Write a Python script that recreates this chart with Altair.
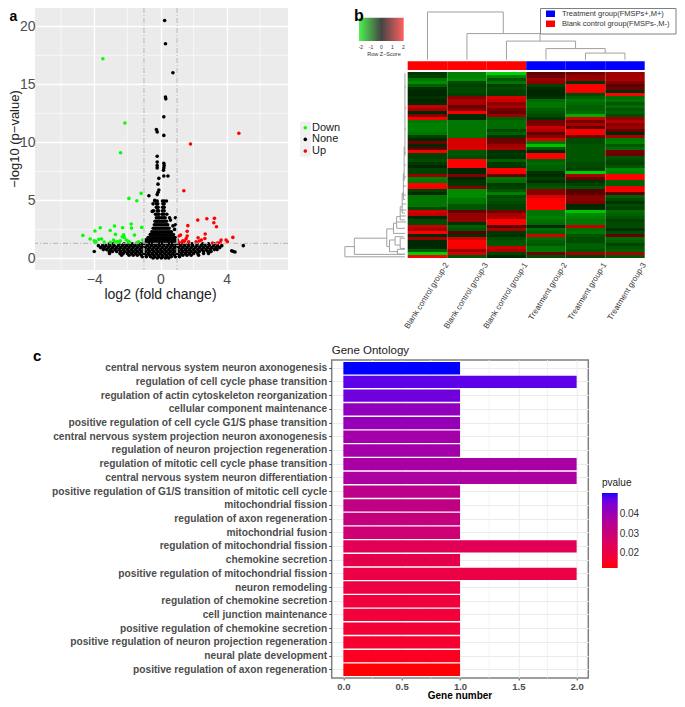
import altair as alt
import pandas as pd

FONT = "Liberation Sans"

# ---------- panel a: volcano ----------
DOWN_X = [-3.48,-2.15,-2.41,-1.17,-1.91,-1.43,-1.77,-2.78,-3.64,-2.29,-1.75,-1.13,-3.04,-3.96,-4.69,-2.72,-1.57,-2.23,-2.31,-2.19,-4.25,-3.72,-3.56,-4.0,-2.84,-2.07,-2.43,-3.4,-3.94,-3.04,-2.74,-2.6,-1.93,-1.33,-1.07,-1.43,-1.87,-2.54,-3.9]
DOWN_Y = [17.2,11.67,9.1,5.6,5.17,4.97,2.96,2.79,2.64,2.64,2.61,2.67,2.41,2.36,1.98,2.07,2.01,2.04,1.87,1.81,1.67,1.64,1.67,1.52,1.58,1.58,1.52,1.41,1.35,1.38,1.44,1.44,1.47,1.44,1.58,1.35,1.38,1.38,1.45]
UP_X = [4.73,1.81,1.41,2.8,3.26,2.25,3.22,3.38,1.65,1.61,2.7,4.37,2.27,2.68,1.21,1.11,1.61,1.55,3.66,3.96,4.04,2.47,2.35,2.15,1.35,1.45,1.7,1.09,1.29,3.14,3.44,3.6]
UP_Y = [10.78,9.86,5.83,3.42,3.45,3.3,3.07,2.73,2.82,2.33,2.1,1.81,1.78,1.72,2.01,1.93,1.93,1.7,1.58,1.58,1.44,1.58,1.5,1.44,1.52,1.49,1.44,1.41,1.38,1.32,1.32,1.38]
NONE_TOP_X = [0.25,0.3,0.75,0.3,0.32,0.2,-0.25,-0.2,0.2,-0.2,-0.2,-0.2,-0.2,0.2,0.22,0.2,0.18,0.2,0.45,-0.1,-0.15,-0.1,-0.15,-0.2,-0.7,-0.35,-0.45,-0.5,0.9,0.9,0.85,0.6,0.55,-4.0,4.3,4.4,4.5,5.0,0.75]
NONE_TOP_Y = [20.5,18.5,16.0,13.9,13.75,12.2,11.1,10.9,10.6,8.8,8.3,8.0,7.8,8.2,8.0,7.8,7.6,7.1,7.1,6.9,6.4,5.9,5.7,5.5,5.4,5.0,4.7,4.05,3.5,2.9,2.5,3.3,3.5,0.6,0.65,0.6,0.55,1.1,2.8]
NONE_ROWS = [
 (4.95,[-0.33,-0.2,0.12,0.22,0.36]),
 (4.7,[-0.25,-0.17,0.15,0.22]),
 (4.4,[-0.25,-0.15,0.13,0.22]),
 (4.1,[-0.42,-0.2,-0.12,0.12,0.22]),
 (3.8,[-0.3,-0.2,-0.1,0.1,0.2,0.38]),
 (3.5,[-0.25,-0.15,-0.05,0.08,0.18,0.28]),
 (3.2,[-0.33,-0.23,-0.13,-0.04,0.06,0.16,0.26,0.36]),
 (2.9,[-0.37,-0.27,-0.17,-0.07,0.03,0.13,0.23,0.33,0.43]),
 (2.6,[-0.44,-0.33,-0.22,-0.11,0.0,0.11,0.22,0.33,0.44,0.52]),
 (2.3,[-0.52,-0.4,-0.28,-0.16,-0.04,0.08,0.2,0.32,0.44,0.56,0.66]),
 (2.05,[-0.62,-0.48,-0.34,-0.2,-0.06,0.08,0.22,0.36,0.5,0.64,0.78]),
 (1.8,[-0.75,-0.6,-0.45,-0.3,-0.15,0.0,0.15,0.3,0.45,0.6,0.75,0.88]),
 (1.6,[-0.88,-0.72,-0.56,-0.4,-0.24,-0.08,0.08,0.24,0.4,0.56,0.72,0.88,1.0]),
 (1.42,[-0.98,-0.8,-0.62,-0.44,-0.26,-0.08,0.1,0.28,0.46,0.64,0.82,1.0]),
 (1.25,[-3.1,-2.85,-2.5,-2.2,-1.95,-1.7,-1.45,-1.2,-1.0,-0.8,-0.6,-0.4,-0.2,0.0,0.2,0.4,0.6,0.8,1.0,1.2,1.4,1.65,1.9,2.2,2.55,2.9,3.25]),
 (1.1,[-3.75,-3.5,-3.3,-3.05,-2.8,-2.55,-2.3,-2.05,-1.8,-1.55,-1.3,-1.05,-0.8,-0.55,-0.3,-0.05,0.2,0.45,0.7,0.95,1.2,1.45,1.7,1.95,2.2,2.45,2.7,2.95,3.2,3.45,3.7]),
 (0.93,[-3.62,-3.4,-3.15,-2.9,-2.65,-2.4,-2.15,-1.9,-1.65,-1.4,-1.15,-0.9,-0.65,-0.4,-0.15,0.1,0.35,0.6,0.85,1.1,1.35,1.6,1.85,2.1,2.35,2.6,2.85,3.1,3.35,3.58]),
 (0.76,[-3.45,-3.25,-3.0,-2.75,-2.5,-2.25,-2.0,-1.75,-1.5,-1.25,-1.0,-0.75,-0.5,-0.25,0.0,0.25,0.5,0.75,1.0,1.25,1.5,1.75,2.0,2.25,2.5,2.75,3.0,3.25,3.42]),
 (0.6,[-3.1,-2.9,-2.65,-2.4,-2.15,-1.9,-1.65,-1.4,-1.15,-0.9,-0.65,-0.4,-0.15,0.1,0.35,0.6,0.85,1.1,1.35,1.6,1.85,2.1,2.35,2.6,2.85,3.05]),
 (0.43,[-3.08,-2.45,-2.25,-2.0,-1.75,-1.5,-1.25,-1.0,-0.75,-0.5,-0.25,0.0,0.25,0.5,0.75,1.0,1.25,1.5,1.75,2.0,2.25,2.6,2.9]),
 (0.27,[-2.35,-1.9,-1.65,-1.4,-1.15,-0.9,-0.65,-0.4,-0.15,0.1,0.35,0.6,0.85,1.1,1.35,1.6,1.85,2.3]),
 (0.14,[-1.1,-0.85,-0.6,-0.35,-0.1,0.15,0.4,0.65,0.9,1.15]),
 (0.03,[-0.45,-0.2,0.05,0.3,0.5]),
]
TICKS_A_X = [-4, 0, 4]
TICKS_A_Y = [0, 5, 10, 15, 20]
MINOR_A_X = [-6, -2, 2, 6]
MINOR_A_Y = [2.5, 7.5, 12.5, 17.5]
GUIDE_X = [-1, 1]
GUIDE_Y = [1.3]

# ---------- panel b: heatmap (z-scores per row, columns as plotted) ----------
SAMPLES = ["Blank control group-2","Blank control group-3","Blank control group-1","Treatment group-2","Treatment group-1","Treatment group-3"]
Z1 = [-0.4,-0.5,-1.0,-1.2,-0.8,-0.3,-0.1,-0.1,-0.3,-0.1,-0.2,1.4,1.0,-0.1,0.6,1.9,-1.0,-1.1,-1.1,-1.1,-1.0,-0.5,-0.2,0.3,-0.1,0.1,1.9,-0.5,-0.5,-0.6,-0.4,-0.1,-0.5,-0.5,0.8,-1.1,-1.0,2.0,1.9,-0.5,-0.2,-1.0,-1.0,-1.0,-1.0,-0.6,1.5,1.3,-0.1,-0.6,-0.6,1.4,1.0,2.0,-0.2,0.9,-0.1,-0.1,-0.1,-0.8,-1.8,1.9]
Z2 = [-1.1,-1.1,-1.2,-0.6,-0.5,-0.6,-0.6,-0.5,0.6,1.1,1.0,0.3,0.6,1.9,-0.2,-0.2,-1.0,-1.0,-1.0,-1.0,-1.0,-1.0,1.5,1.6,1.5,1.6,-0.7,-0.7,-0.6,2.0,2.0,2.0,-0.1,-0.1,0.6,-0.1,-0.3,-0.4,0.6,-1.2,-1.2,-1.2,-1.0,-1.0,-0.7,-0.7,0.2,0.8,0.8,0.8,-0.3,-0.8,-0.7,0.0,-0.3,1.5,2.0,2.0,1.9,0.9,1.5,-0.7]
Z3 = [-1.8,-1.1,-0.7,-1.0,-0.5,-0.6,-0.5,-0.5,1.6,1.4,0.7,1.0,0.4,0.2,0.9,-0.8,-0.9,-0.9,-0.9,-0.6,-0.8,-0.4,0.3,0.4,0.9,1.1,-0.3,-0.4,-0.3,-0.8,-0.4,-0.4,2.0,1.9,0.2,-1.0,-0.9,-0.4,-0.5,-0.7,-1.1,-0.6,-0.7,-0.6,-0.5,-0.5,0.4,1.0,1.1,2.0,2.0,0.1,1.0,-0.4,-0.3,-0.6,-0.7,-0.7,1.4,1.0,-0.5,-0.1]
Z4 = [0.1,0.3,0.9,0.7,-0.5,-0.2,-0.1,-0.1,-0.3,-0.9,-1.0,-1.0,-0.8,-0.7,-0.6,-0.3,0.4,0.5,1.4,1.1,0.2,0.7,1.6,-1.0,-1.7,-0.7,-0.1,2.0,2.0,-0.8,-0.9,-0.8,-0.8,-0.3,-0.2,-0.5,-0.2,-0.6,-0.7,0.7,0.6,1.6,1.9,2.0,2.0,2.0,-1.0,-1.0,-1.1,-1.0,-0.9,-0.1,-0.9,-0.8,1.5,-0.9,-0.8,-0.7,-1.0,-1.0,0.3,-0.6]
Z5 = [0.4,0.8,0.9,-0.3,2.0,2.0,1.9,-0.6,-0.8,-1.0,-0.9,-0.8,-0.8,-0.9,-1.5,1.4,0.4,1.0,0.2,1.9,1.9,0.4,-0.6,-0.6,-0.7,-0.7,-0.7,-0.7,-0.7,-0.7,-0.6,-0.6,-0.5,-1.8,1.0,0.2,-0.3,-0.5,-0.7,0.0,0.1,0.6,0.7,0.5,-0.1,-0.2,-1.7,-1.2,-1.1,-1.0,-1.0,1.3,-0.9,-1.0,-0.7,-0.6,-0.6,-0.8,-0.8,-0.7,0.9,-0.5]
Z6 = [0.9,0.9,1.0,0.6,0.0,0.3,-0.2,2.0,-0.9,-1.0,-0.7,-0.9,-0.7,-0.8,-0.6,0.8,1.2,0.6,0.9,0.2,-0.1,1.0,-1.0,-1.1,-0.7,-0.9,0.4,0.3,-0.7,-0.6,-0.5,-0.7,-1.2,-1.1,2.0,2.0,-0.8,-0.8,1.8,1.9,0.0,-0.8,-0.6,-0.3,-0.6,-0.5,-0.9,-0.8,-0.7,-0.5,-0.6,-0.6,-0.3,-0.6,0.2,-0.9,-0.8,-0.5,-0.7,-0.8,1.0,-0.7]
Z_COLS = [Z1, Z2, Z3, Z4, Z5, Z6]
GROUP_COLOR = ["#ff0000","#ff0000","#ff0000","#0000ff","#0000ff","#0000ff"]
# dendrogram links: x1, y1, x2, y2 in column / row units
TOP_LINKS = [
 (0.5,-4.1,0.5,-20),(0.5,-20,2.42,-20),(2.42,-20,2.42,-12.8),
 (1.5,-4.1,1.5,-12.8),(1.5,-12.8,3.35,-12.8),(3.35,-12.8,3.35,-10.3),
 (2.5,-4.1,2.5,-10.3),(2.5,-10.3,4.25,-10.3),(4.25,-10.3,4.25,-7.8),
 (3.5,-4.1,3.5,-7.8),(3.5,-7.8,5.0,-7.8),(5.0,-7.8,5.0,-6.3),
 (4.5,-4.1,4.5,-6.3),(4.5,-6.3,5.5,-6.3),(5.5,-6.3,5.5,-4.1),
]
LEFT_LINKS = [
 (-1.59,58.2,-1.59,61.6),(-1.59,61.6,-0.07,61.6),(-1.59,58.2,-1.35,58.2),
 (-1.35,55.4,-1.35,60.8),(-1.35,60.8,-0.07,60.8),(-1.35,55.4,-0.53,55.4),
 (-0.53,52.3,-0.53,58.2),(-0.53,52.3,-0.36,52.3),(-0.53,58.2,-0.46,58.2),
 (-0.36,50.4,-0.36,53.8),(-0.36,50.4,-0.28,50.4),(-0.36,53.8,-0.07,53.8),
 (-0.28,48.2,-0.28,52.1),(-0.28,52.1,-0.07,52.1),(-0.28,48.2,-0.19,48.2),
 (-0.19,44.9,-0.19,49.3),(-0.19,49.3,-0.07,49.3),(-0.19,44.9,-0.14,44.9),
 (-0.14,40.4,-0.14,47),(-0.14,47,-0.07,47),(-0.14,40.4,-0.11,40.4),
 (-0.11,33.8,-0.11,42.5),(-0.11,42.5,-0.07,42.5),(-0.11,33.8,-0.09,33.8),
 (-0.09,25,-0.09,36),(-0.09,36,-0.07,36),(-0.09,25,-0.07,25),
 (-0.07,0.4,-0.07,28),
 (-0.46,56,-0.46,59.9),(-0.46,56,-0.32,56),(-0.46,59.9,-0.26,59.9),
 (-0.32,54.9,-0.32,57.7),(-0.32,54.9,-0.11,54.9),(-0.32,57.7,-0.19,57.7),
 (-0.19,55.4,-0.19,58.8),(-0.19,55.4,-0.07,55.4),(-0.19,58.8,-0.07,58.8),
 (-0.26,59.1,-0.26,60.7),(-0.26,59.1,-0.07,59.1),(-0.26,60.7,-0.07,60.7),
 (-0.07,5,-0.04,5),(-0.07,12,-0.04,12),(-0.07,19,-0.04,19),(-0.09,27,-0.04,27),
 (-0.09,31,-0.04,31),(-0.11,35,-0.04,35),(-0.11,38,-0.04,38),(-0.14,41,-0.04,41),
 (-0.14,44,-0.04,44),(-0.19,46,-0.04,46),(-0.19,48,-0.04,48),(-0.28,50,-0.04,50),
]
KEY_TICKS = ["-2","-1","0","1","2"]

# ---------- panel c: GO bars ----------
TERMS = ["central nervous system neuron axonogenesis","regulation of cell cycle phase transition","regulation of actin cytoskeleton reorganization","cellular component maintenance","positive regulation of cell cycle G1/S phase transition","central nervous system projection neuron axonogenesis","regulation of neuron projection regeneration","regulation of mitotic cell cycle phase transition","central nervous system neuron differentiation","positive regulation of G1/S transition of mitotic cell cycle","mitochondrial fission","regulation of axon regeneration","mitochondrial fusion","regulation of mitochondrial fission","chemokine secretion","positive regulation of mitochondrial fission","neuron remodeling","regulation of chemokine secretion","cell junction maintenance","positive regulation of chemokine secretion","positive regulation of neuron projection regeneration","neural plate development","positive regulation of axon regeneration"]
GENES = [1,2,1,1,1,1,1,2,2,1,1,1,1,2,1,2,1,1,1,1,1,1,1]
PVALS = [0.0508,0.048,0.0465,0.042,0.041,0.039,0.039,0.038,0.0375,0.0335,0.032,0.031,0.029,0.0235,0.022,0.0205,0.02,0.019,0.0185,0.018,0.017,0.015,0.0128]
P_STOPS = [0.0126, 0.02215, 0.0317, 0.04125, 0.0508]
P_COLORS = ["#ff0000", "#e4004d", "#c10080", "#9300b8", "#0000ff"]
TICKS_C = [0, 0.5, 1, 1.5, 2]
MINOR_C = [0.25, 0.75, 1.25, 1.75]

ONE = pd.DataFrame({"k": [0]})


def txt(s, x, y, size=10, color="#000000", weight="normal", align="left", angle=0):
    return alt.Chart(ONE).mark_text(
        text=s, font=FONT, fontSize=size, color=color, fontWeight=weight,
        align=align, baseline="middle", angle=angle,
    ).encode(x=alt.value(x), y=alt.value(y))


def box(x, x2, y, y2, **mark):
    return alt.Chart(ONE).mark_rect(**mark).encode(
        x=alt.value(x), x2=alt.value(x2), y=alt.value(y), y2=alt.value(y2))


def dot(x, y, color):
    return alt.Chart(ONE).mark_circle(size=13, color=color, opacity=1).encode(
        x=alt.value(x), y=alt.value(y))


# ===== panel a =====
AW, AH = 253, 262
ax = alt.Scale(domain=[-7.58, 7.7], nice=False, zero=False)
ay = alt.Scale(domain=[-1.0, 21.58], nice=False, zero=False)
axis_a_x = alt.Axis(values=TICKS_A_X, title=None, grid=True, gridColor="#ffffff", gridWidth=1.3,
                    labelFontSize=14, labelColor="#4d4d4d", labelFont=FONT,
                    ticks=False, domain=False, labelPadding=2.5)
axis_a_y = alt.Axis(values=TICKS_A_Y, title=None, grid=True, gridColor="#ffffff", gridWidth=1.3,
                    labelFontSize=14, labelColor="#4d4d4d", labelFont=FONT,
                    ticks=False, domain=False, labelPadding=0)
XA = alt.X("x:Q", scale=ax, axis=axis_a_x)
YA = alt.Y("y:Q", scale=ay, axis=axis_a_y)

none_x = list(NONE_TOP_X)
none_y = list(NONE_TOP_Y)
for yy, xs in NONE_ROWS:
    for xx in xs:
        none_x.append(xx)
        none_y.append(yy)

def pts(xs, ys, color):
    return alt.Chart(pd.DataFrame({"x": xs, "y": ys})).mark_circle(size=13, color=color, opacity=1).encode(x=XA, y=YA)

minor_x_a = alt.Chart(pd.DataFrame({"x": MINOR_A_X})).mark_rule(color="#ffffff", strokeWidth=0.6).encode(x=XA)
minor_y_a = alt.Chart(pd.DataFrame({"y": MINOR_A_Y})).mark_rule(color="#ffffff", strokeWidth=0.6).encode(y=YA)
guide_v = alt.Chart(pd.DataFrame({"x": GUIDE_X})).mark_rule(color="#c9c9c9", strokeWidth=1.5, strokeDash=[5, 2, 1, 2]).encode(x=XA)
guide_h = alt.Chart(pd.DataFrame({"y": GUIDE_Y})).mark_rule(color="#b4b4b4", strokeWidth=1, strokeDash=[5, 2, 1, 2]).encode(y=YA)

OX = 35  # page x of plot a
panel_a = alt.layer(
    minor_x_a, minor_y_a,
    pts(none_x, none_y, "#000000"),
    pts(DOWN_X, DOWN_Y, "#00ff00"),
    pts(UP_X, UP_Y, "#ff0000"),
    guide_v, guide_h,
    txt("\u2212log10 (p\u2212value)", -20, 131, size=13, color="#222222", align="center", angle=270),
    txt("log2 (fold change)", 160.5 - OX, 286.5, size=14, color="#222222", align="center"),
    txt("a", -25.5, 9, size=14, weight="bold"),
    box(300 - OX, 310.7 - OX, 113.7, 148.7, fill="#f0f0f0"),
    dot(305.3 - OX, 119.7, "#00ff00"), dot(305.3 - OX, 131.4, "#000000"), dot(305.3 - OX, 143.1, "#ff0000"),
    txt("Down", 312 - OX, 119.7, size=11, color="#222222"),
    txt("None", 312 - OX, 131.4, size=11, color="#222222"),
    txt("Up", 312 - OX, 143.1, size=11, color="#222222"),
).properties(width=AW, height=AH, view=alt.ViewBackground(fill="#ebebeb", stroke=None))

# ===== panel b =====
# The view starts at page x 331.7 / y 8 so that it lines up with panels a and c.
BX, BY = 331.7, 8
BW, BH = 313, 250
bx = alt.Scale(domain=[-1.924, 6], nice=False, zero=False)
by = alt.Scale(domain=[-21.33, 62], nice=False, zero=False, reverse=True)
XB = alt.X("c0:Q", scale=bx, axis=None)
YB = alt.Y("r0:Q", scale=by, axis=None)
cells = []
for c, col in enumerate(Z_COLS):
    for r, v in enumerate(col):
        cells.append({"c0": c, "c1": c + 1, "r0": r, "r1": r + 1, "z": v})
heat = alt.Chart(pd.DataFrame(cells)).mark_rect().encode(
    x=XB, x2="c1:Q", y=YB, y2="r1:Q",
    color=alt.Color("z:Q", legend=None, scale=alt.Scale(domain=[-2, 0, 2], range=["#00e600", "#000000", "#ff0000"])),
)
annot = alt.Chart(pd.DataFrame([
    {"c0": i, "c1": i + 1, "r0": -3.55, "r1": -0.67, "g": GROUP_COLOR[i]} for i in range(6)
])).mark_rect().encode(
    x=XB, x2="c1:Q", y=YB, y2="r1:Q",
    color=alt.Color("g:N", scale=None, legend=None),
)

def links(rows, color="#a0a0a0"):
    df = pd.DataFrame(rows, columns=["c0", "r0", "c1", "r1"])
    return alt.Chart(df).mark_rule(color=color, strokeWidth=1).encode(x=XB, x2="c1:Q", y=YB, y2="r1:Q")

sep = alt.Chart(pd.DataFrame({"c0": [1, 2, 3, 4, 5], "r0": [0] * 5, "r1": [62] * 5})).mark_rule(
    color="#ffffff", opacity=0.12, strokeWidth=1).encode(x=XB, y=YB, y2="r1:Q")
names = alt.Chart(pd.DataFrame({"s": SAMPLES, "c0": [1, 2, 3, 4, 5, 6], "r0": [63.9] * 6})).mark_text(
    font=FONT, fontSize=8, color="#333333", align="right", baseline="middle", angle=302,
).encode(x=XB, y=YB, text="s:N")

key_grad = alt.LinearGradient(gradient="linear", x1=0, x2=1, y1=0, y2=0, stops=[
    alt.GradientStop(offset=0, color="#4ff04f"), alt.GradientStop(offset=0.5, color="#454545"),
    alt.GradientStop(offset=1, color="#ff6060")])
key_x = [360.7, 371, 381.3, 392.3, 403.3]
panel_b = alt.layer(
    heat, annot, sep, links(TOP_LINKS), links(LEFT_LINKS), names,
    box(359 - BX, 403.7 - BX, 17.7 - BY, 41 - BY, fill=key_grad),
    *[txt(t, k - BX, 47 - BY, size=5, color="#333333", align="center") for t, k in zip(KEY_TICKS, key_x)],
    txt("Row Z\u2212Score", 384 - BX, 54 - BY, size=5.5, color="#333333", align="center"),
    txt("b", 354 - BX, 8, size=16, weight="bold"),
    box(540.5 - BX, 676 - BX, 8.5 - BY, 34 - BY, fill="#ffffff", stroke="#808080", strokeWidth=1),
    box(546 - BX, 555 - BX, 10.5 - BY, 17 - BY, fill="#0000ff"),
    box(546 - BX, 555 - BX, 20.5 - BY, 27 - BY, fill="#ff0000"),
    txt("Treatment group(FMSPs+,M+)", 562 - BX, 13.7 - BY, size=7.5, color="#333333"),
    txt("Blank control group(FMSPs-,M-)", 562 - BX, 23.7 - BY, size=7.5, color="#333333"),
).properties(width=BW, height=BH, view=alt.ViewBackground(stroke=None))

# ===== panel c =====
CW, CH = 256.6, 318
CX, CY = 331.7, 360
cx = alt.Scale(domain=[-0.1, 2.1], nice=False, zero=False)
cy = alt.Scale(domain=TERMS, paddingInner=0.1, paddingOuter=0.15)
axis_c_x = alt.Axis(values=TICKS_C, format=".1f", title=None, grid=True, gridColor="#ebebeb", gridWidth=1,
                    labelFontSize=9.5, labelColor="#4d4d4d", labelFont=FONT, labelFontWeight="bold",
                    tickColor="#4d4d4d", tickSize=2, domain=False, labelPadding=1)
dfc = pd.DataFrame({"term": TERMS, "genes": GENES, "p": PVALS})
minor_c = alt.Chart(pd.DataFrame({"genes": MINOR_C})).mark_rule(color="#f0f0f0", strokeWidth=0.8).encode(
    x=alt.X("genes:Q", scale=cx, axis=axis_c_x))
bars = alt.Chart(dfc).mark_bar().encode(
    x=alt.X("genes:Q", scale=cx, axis=axis_c_x),
    y=alt.Y("term:N", sort=TERMS, scale=cy, axis=alt.Axis(
        title=None, grid=True, gridColor="#ebebeb", gridWidth=1, labelFontSize=10.2,
        labelColor="#4d4d4d", labelFont=FONT, labelFontWeight="bold", labelLimit=400,
        tickColor="#4d4d4d", tickSize=3, domain=False, labelPadding=2)),
    color=alt.Color("p:Q", scale=alt.Scale(domain=P_STOPS, range=P_COLORS),
                    legend=alt.Legend(orient="none", legendX=270.3, legendY=118, title="pvalue", titleFont=FONT,
                                      titleFontSize=10, titleFontWeight="normal", titleColor="#222222",
                                      labelFont=FONT, labelFontSize=10, labelColor="#333333",
                                      values=[0.02, 0.03, 0.04], gradientLength=75, gradientThickness=15.7,
                                      format=".2f")),
)
panel_c = alt.layer(
    minor_c, bars,
    txt("Gene Ontology", 0, -9, size=11.5, color="#222222"),
    txt("Gene number", 460 - CX, 336, size=10, weight="bold", align="center"),
    txt("c", 33 - CX, -4.4, size=15, weight="bold"),
).properties(width=CW, height=CH, view=alt.ViewBackground(stroke="#7f7f7f", strokeWidth=1.5))

chart = alt.hconcat(
    panel_a,
    alt.vconcat(panel_b, panel_c, spacing=102, bounds="flush").resolve_scale(color="independent"),
    spacing=43.7,
    bounds="flush",
).resolve_scale(color="independent").properties(
    autosize=alt.AutoSizeParams(type="none"),
    padding={"left": 27, "top": 0, "right": 642, "bottom": 691},
)

chart.save("out.html", embed_options={"renderer": "svg", "actions": False})
